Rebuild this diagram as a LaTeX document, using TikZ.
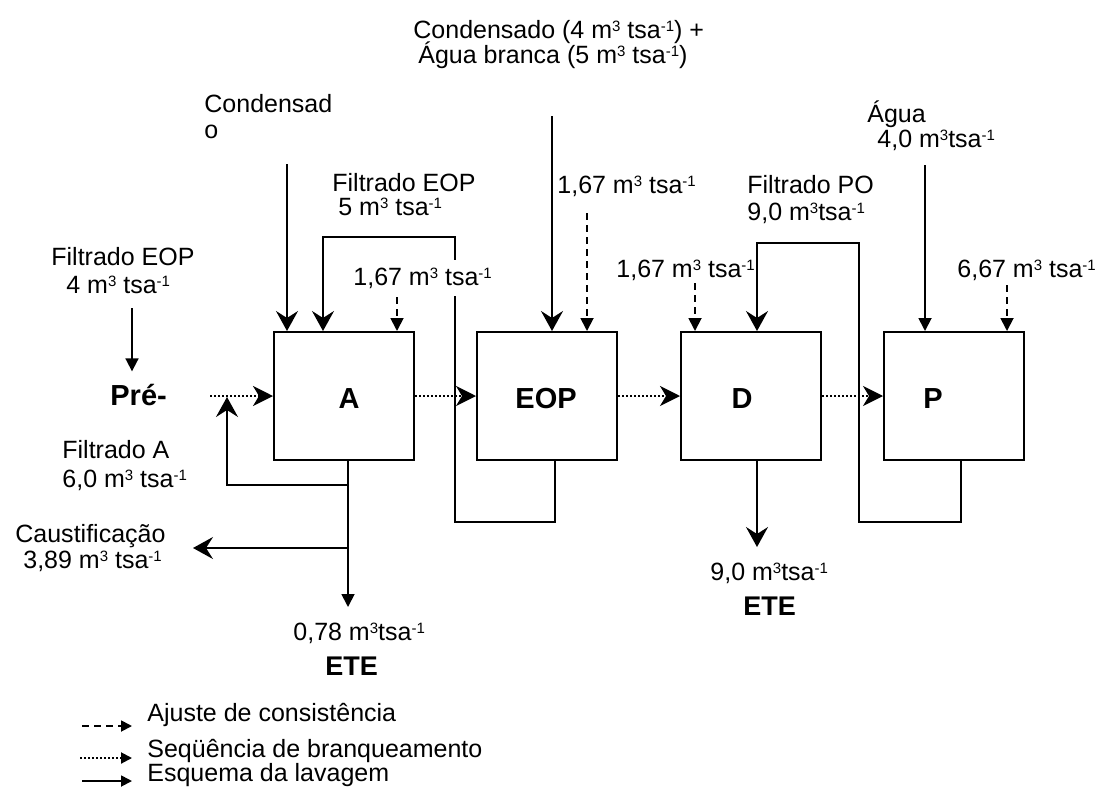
\documentclass[tikz,border=0pt]{standalone}
\usepackage{fontspec}
\setmainfont{Liberation Sans}
\usetikzlibrary{arrows.meta, positioning, calc}
\newcommand{\expo}[1]{\raisebox{3.5pt}{\fontsize{7.5}{8}\selectfont #1}}
\tikzset{
  caixa/.style={rectangle, draw, line width=1pt, minimum width=70pt, minimum height=64pt, inner sep=0pt},
  rotulo/.style={font=\fontsize{12.5}{14}\selectfont, inner sep=0pt, anchor=base west},
  rotulob/.style={font=\fontsize{14.5}{16}\selectfont\bfseries, inner sep=0pt, anchor=base},
  rotuloete/.style={font=\fontsize{13.5}{15}\selectfont\bfseries, inner sep=0pt, anchor=base west},
  lavagem/.style={line width=0.9pt, -{Stealth[length=10pt, width=11pt, inset=3.5pt]}},
  lavagemt/.style={line width=0.9pt, -{Triangle[length=6.5pt, width=6.5pt]}},
  ajuste/.style={line width=0.9pt, dash pattern=on 3.5pt off 2.5pt, -{Triangle[length=6.5pt, width=6.5pt]}},
  sequencia/.style={line width=1pt, dash pattern=on 1pt off 1pt, -{Stealth[length=10pt, width=10pt, inset=3pt]}},
  legtip/.style={-{Triangle[length=5.5pt, width=5.5pt]}}
}

\begin{document}
\begin{tikzpicture}[x=0.5pt, y=-0.5pt]
  \useasboundingbox (0,0) rectangle (1106,787);
  % Estagios do branqueamento
  \node (A) [caixa] at (344,396) {};
  \node (EOP) [caixa] at (547,396) {};
  \node (D) [caixa] at (751,396) {};
  \node (P) [caixa] at (954,396) {};
  \node (lA) [rotulob] at (349,408) {A};
  \node (lEOP) [rotulob, anchor=base west] at (515,408) {EOP};
  \node (lD) [rotulob] at (742,408) {D};
  \node (lP) [rotulob] at (933,408) {P};
  \node (pre) [rotulob, anchor=base west] at (110,405) {Pré-};
  % Sequencia de branqueamento
  \coordinate (ini) at (210,396);
  \draw [sequencia] (ini) -- (A.west);
  \draw [sequencia] (A) -- (EOP); \draw [sequencia] (EOP) -- (D); \draw [sequencia] (D) -- (P);
  % Entradas no estagio A
  \coordinate (cond) at (287,164);
  \draw [lavagem] (cond) -- (cond |- A.north);
  \coordinate (ajA) at (397,297);
  \draw [ajuste] (ajA) -- (ajA |- A.north);
  \coordinate (lacoA1) at (455,522);
  \coordinate (lacoA2) at (323,237);
  \draw [lavagem] ([xshift=4pt]EOP.south) |- (lacoA1) |- (lacoA2) -- (lacoA2 |- A.north);
  % Saidas do estagio A
  \coordinate (eteA) at (348,607);
  \coordinate (filA0) at (227,485);
  \coordinate (filA) at (227,397);
  \coordinate (caus) at (193,548);
  \draw [lavagemt] ([xshift=2pt]A.south) -- (eteA);
  \draw [lavagem] (eteA |- filA0) -- (filA0) -- (filA);
  \draw [lavagem] (eteA |- caus) -- (caus);
  \coordinate (fe4a) at (132,308);
  \draw [lavagemt, shorten >=6pt] (fe4a) -- (fe4a |- pre.north);
  % Entradas no estagio EOP
  \coordinate (condb) at (552,116);
  \draw [lavagem] (condb) -- (condb |- EOP.north);
  \coordinate (ajEOP) at (587,213);
  \draw [ajuste] (ajEOP) -- (ajEOP |- EOP.north);
  % Estagio D
  \coordinate (ajD) at (695,283);
  \draw [ajuste] (ajD) -- (ajD |- D.north);
  \coordinate (lacoB1) at (859,522);
  \coordinate (lacoB2) at (757,243);
  \draw [lavagem] ([xshift=3.5pt]P.south) |- (lacoB1) |- (lacoB2) -- (lacoB2 |- D.north);
  \coordinate (eteD) at (757,547);
  \draw [lavagem] (D.south -| eteD) -- (eteD);
  % Estagio P
  \coordinate (agua) at (925,165);
  \draw [lavagemt] (agua) -- (agua |- P.north);
  \coordinate (ajP) at (1007,285);
  \draw [ajuste] (ajP) -- (ajP |- P.north);
  % Rotulos das correntes
  \node (tcond1) [rotulo] at (204,112) {Condensad};
  \node (tcond2) [rotulo] at (204,138) {o};
  \node (tcondb1) [rotulo] at (413,38) {Condensado (4 m\expo{3} tsa\expo{-1}) +};
  \node (tcondb2) [rotulo] at (418,63) {Água branca (5 m\expo{3} tsa\expo{-1})};
  \node (tfeop1) [rotulo] at (332,191) {Filtrado EOP};
  \node (tfeop2) [rotulo] at (338,215) {5 m\expo{3} tsa\expo{-1}};
  \node (tajA) [rotulo, fill=white, inner ysep=4pt] at (353,285) {1,67 m\expo{3} tsa\expo{-1}};
  \node (tfe4a) [rotulo] at (51,265) {Filtrado EOP};
  \node (tfe4b) [rotulo] at (66,293) {4 m\expo{3} tsa\expo{-1}};
  \node (tfA1) [rotulo] at (62,458) {Filtrado A};
  \node (tfA2) [rotulo] at (62,487) {6,0 m\expo{3} tsa\expo{-1}};
  \node (tcau1) [rotulo] at (15,542) {Caustificação};
  \node (tcau2) [rotulo] at (23,568) {3,89 m\expo{3} tsa\expo{-1}};
  \node (teteA1) [rotulo] at (293,640) {0,78 m\expo{3}tsa\expo{-1}};
  \node (teteA2) [rotuloete] at (325,675) {ETE};
  \node (tajEOP) [rotulo] at (557,193) {1,67 m\expo{3} tsa\expo{-1}};
  \node (tajD) [rotulo] at (616,277) {1,67 m\expo{3} tsa\expo{-1}};
  \node (tfPO1) [rotulo] at (747,193) {Filtrado PO};
  \node (tfPO2) [rotulo] at (747,220) {9,0 m\expo{3}tsa\expo{-1}};
  \node (tagua1) [rotulo] at (867,122) {Água};
  \node (tagua2) [rotulo] at (877,147) {4,0 m\expo{3}tsa\expo{-1}};
  \node (tajP) [rotulo] at (957,277) {6,67 m\expo{3} tsa\expo{-1}};
  \node (teteD1) [rotulo] at (710,580) {9,0 m\expo{3}tsa\expo{-1}};
  \node (teteD2) [rotuloete] at (743,615) {ETE};
  % Legenda
  \coordinate (lg1a) at (82,726); \coordinate (lg1b) at (132,726);
  \coordinate (lg2a) at (80,758); \coordinate (lg2b) at (132,758);
  \coordinate (lg3a) at (82,781); \coordinate (lg3b) at (132,781);
  \draw [ajuste, legtip] (lg1a) -- (lg1b);
  \draw [sequencia, legtip] (lg2a) -- (lg2b);
  \draw [lavagem, legtip] (lg3a) -- (lg3b);
  \node (leg1) [rotulo] at (147,721) {Ajuste de consistência};
  \node (leg2) [rotulo] at (147,757) {Seqüência de branqueamento};
  \node (leg3) [rotulo] at (147,781) {Esquema da lavagem};
\end{tikzpicture}
\end{document}
